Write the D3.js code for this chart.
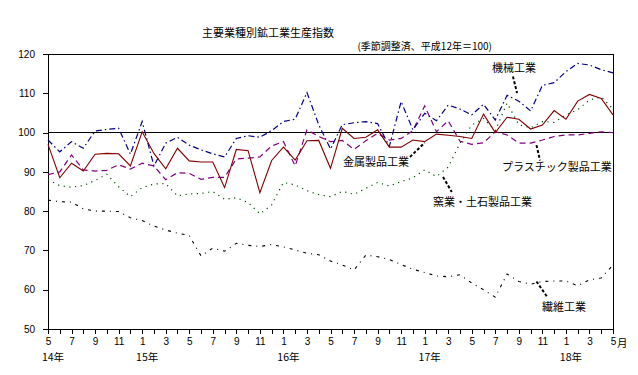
<!DOCTYPE html>
<html><head><meta charset="utf-8">
<script src="https://cdn.jsdelivr.net/npm/d3@7/dist/d3.min.js"></script>
<style>
body{margin:0;background:#fff}
svg text{font-family:"Liberation Sans",Arial,sans-serif;fill:#000}
.jp{font-family:"Noto Sans CJK JP","Noto Sans CJK SC",sans-serif}
</style>
</head><body>
<svg id="c" width="638" height="375"></svg>
<script>
// ---- data ----
const months = ["5","6","7","8","9","10","11","12","1","2","3","4","5","6","7","8","9","10","11","12",
  "1","2","3","4","5","6","7","8","9","10","11","12","1","2","3","4","5","6","7","8","9","10","11","12",
  "1","2","3","4","5"];
const years = ["14年","15年","16年","17年","18年"];
const yTicks = [50,60,70,80,90,100,110,120];

const metal = [97,88.5,92.2,90.2,94.5,94.7,94.6,91.5,100.2,94.7,90.8,96,92.8,92.5,92.5,86,95.7,95.4,84.7,92.9,
  96.3,93,97.9,98,90.9,101.1,98.5,98.8,100.7,96.3,96.3,98.1,97.7,99.6,99.3,99,98.5,104.7,100,103.9,
  103.4,100.9,101.9,105.6,103.4,108,109.7,108.7,104.5];
const machinery = [98.1,95.1,97.7,96,100.4,100.8,101.1,94.5,102.8,91.5,97.3,98.8,96.8,95.6,94.6,93.8,98.5,99.2,98.8,100.5,
  102.8,103.4,110.2,102,95.8,102,102.5,102.8,102.3,96.5,107.9,100.7,104.9,103,107,106,104.5,107.2,103.2,109.5,
  108,105.5,112,112.7,115.5,117.6,117.2,116,115.2];
const plastic = [89.3,90,94.3,90.5,90.2,90.4,91.8,90.7,92.2,91.5,88,89.8,89.6,88.1,88.6,88.6,93.3,93.5,93.8,96.6,
  97.7,91.5,100.7,99,97.7,98,95.7,97.9,99.8,98.1,98.5,100.5,106.8,100.2,103,97.8,97,97.4,100.2,99.4,
  97.3,97.3,98.1,99,99.4,99.4,99.8,100.2,100];
const ceramics = [88,86.5,86.1,86.5,87.8,89.4,86.2,83.7,86,86.9,87,83.9,84.4,84.5,85,83,83.4,82.2,79.3,81.6,
  87.3,86.7,85.2,84.2,83.7,85,84.3,85.8,87.3,86.4,87.5,88.5,90.5,88.8,91.2,97.3,101.9,103.6,100.5,107.5,
  102,101.2,102.8,102.6,104.5,105.8,108.3,109.1,106];
const textile = [82.8,82.4,82.3,80.6,80,80,79.9,78.3,77.6,76.2,75.2,74.4,73.8,68.6,70.6,69.8,71.8,71.3,71,71.5,
  70.9,70.1,69.3,68.9,67.3,66.3,65,68.8,68.4,67.7,66.4,65.2,64.4,63.5,63.3,63.8,61.7,60,58.1,64,
  62.1,61.4,62.1,62.2,62.2,61,62.5,63,66.3];

// ---- layout ----
const L=48, R=613, T=54, B=329;
const svg = d3.select("#c");
const x = d3.scaleLinear().domain([0, months.length-1]).range([L, R]);
const y = d3.scaleLinear().domain([50, 120]).range([B, T]);

// title
svg.append("text").attr("class","jp").attr("x",268).attr("y",37).attr("text-anchor","middle")
  .style("font-size","11px").text("主要業種別鉱工業生産指数");
svg.append("text").attr("class","jp").attr("x",492).attr("y",50).attr("text-anchor","end")
  .style("font-size","10px").text("(季節調整済、平成12年＝100)");

// frame
svg.append("rect").attr("x",L).attr("y",T).attr("width",R-L).attr("height",B-T)
  .attr("fill","none").attr("stroke","#000").attr("stroke-width",1).attr("shape-rendering","crispEdges");

// y axis
const ya = svg.append("g").attr("transform",`translate(${L},0)`)
  .call(d3.axisLeft(y).tickValues(yTicks).tickSize(5).tickSizeOuter(0).tickPadding(8));
ya.selectAll("text").style("font-size","10px").style("font-family","Liberation Sans, Arial, sans-serif");
ya.selectAll("line,path").attr("stroke","#000").attr("shape-rendering","crispEdges");

// x axis
const xa = svg.append("g").attr("transform",`translate(0,${B})`)
  .call(d3.axisBottom(x).tickValues(d3.range(months.length)).tickSize(5).tickSizeOuter(0).tickPadding(4)
    .tickFormat(i => i % 2 === 0 ? months[i] : ""));
xa.selectAll("text").style("font-size","10px").style("font-family","Liberation Sans, Arial, sans-serif");
xa.selectAll("line,path").attr("stroke","#000").attr("shape-rendering","crispEdges");
svg.append("text").attr("class","jp").attr("x",x(months.length-1)+4).attr("y",347)
  .style("font-size","10.5px").text("月");

// year labels
const yearIdx = [0];
months.forEach((mm,i)=>{ if(mm==="1") yearIdx.push(i); });
yearIdx.forEach((i,k)=>{
  svg.append("text").attr("class","jp").attr("x",x(i)+5).attr("y",361).attr("text-anchor","middle")
    .style("font-size","10.5px").text(years[k]);
});

// 100 reference line
svg.append("line").attr("x1",L).attr("x2",R).attr("y1",y(100)).attr("y2",y(100))
  .attr("stroke","#000").attr("stroke-width",1).attr("shape-rendering","crispEdges");

// series
const line = d3.line().x((d,i)=>x(i)).y(d=>y(d));
const series = [
  {v: textile,   c:"#000000", dash:"3,5,1,5", w:1.1},
  {v: ceramics,  c:"#004d00", dash:"1.2,4.5", w:1.2},
  {v: plastic,   c:"#800080", dash:"6,4",     w:1.2},
  {v: machinery, c:"#000080", dash:"6,3,1.5,3", w:1.2},
  {v: metal,     c:"#800000", dash:null,      w:1.1},
];
series.forEach(s=>{
  svg.append("path").datum(s.v).attr("d",line).attr("fill","none")
    .attr("stroke",s.c).attr("stroke-width",s.w).attr("stroke-dasharray",s.dash);
});

// annotations
const ann = [
  {t:"機械工業", tx:492, ty:72, p:[[39.5,114.3],[39.85,110.1]]},
  {t:"金属製品工業", tx:343, ty:166, p:[[30.75,93.8],[32,97.4]]},
  {t:"プラスチック製品工業", tx:502, ty:171, p:[[41.5,96.8],[41.8,92.9]]},
  {t:"窯業・土石製品工業", tx:433, ty:206, p:[[33.56,88.7],[34.3,84.9]]},
  {t:"繊維工業", tx:542, ty:311, p:[[41.5,62.1],[42.4,58.2]]},
];
ann.forEach(a=>{
  svg.append("text").attr("class","jp").attr("x",a.tx).attr("y",a.ty)
    .style("font-size","11px").text(a.t);
  svg.append("line").attr("x1",x(a.p[0][0])).attr("y1",y(a.p[0][1]))
    .attr("x2",x(a.p[1][0])).attr("y2",y(a.p[1][1]))
    .attr("stroke","#000").attr("stroke-width",2).attr("stroke-dasharray","3,2");
});
</script>
</body></html>
